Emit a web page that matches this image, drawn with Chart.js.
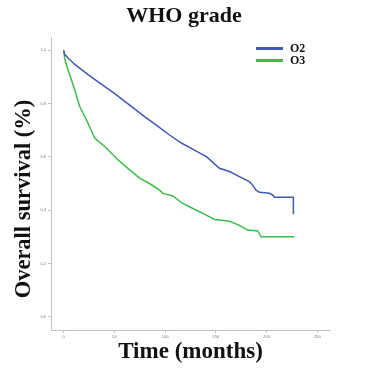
<!DOCTYPE html>
<html>
<head>
<meta charset="utf-8">
<script src="https://cdn.jsdelivr.net/npm/chart.js@4/dist/chart.umd.min.js"></script>
<style>
  body { margin: 0; background: #fff; }
  #wrap { position: relative; width: 368px; height: 368px; }
  #legend { position: absolute; left: 256px; top: 42px; font: bold 12px 'Liberation Serif', serif; color: #111; }
  #legend div { display: flex; align-items: center; height: 12px; }
  #legend span.sw { display: inline-block; width: 27px; height: 3px; margin-right: 7px; }
</style>
</head>
<body>
<div id="wrap">
  <canvas id="km" width="368" height="368"></canvas>
  <div id="legend"></div>
</div>
<script>
// Kaplan-Meier curves (months, survival)
const seriesNames = ['O2', 'O3'];
const seriesColors = ['#4259b3', '#3dbb4b'];

const o2Months = [0, 1, 5, 11, 24, 36, 50, 57, 68, 80, 92, 104, 116, 128, 141, 153.5, 163.4, 173.2, 183, 186.3, 189.6, 193, 202.8, 206, 207.7, 226.4, 226.4];
const o2Surv   = [1.0, 0.985, 0.968, 0.947, 0.909, 0.876, 0.838, 0.818, 0.786, 0.75, 0.717, 0.683, 0.652, 0.627, 0.60, 0.557, 0.545, 0.526, 0.507, 0.494, 0.475, 0.467, 0.463, 0.457, 0.448, 0.448, 0.385];

const o3Months = [0, 1, 2, 4.2, 10.8, 15.7, 23.9, 30.5, 40.4, 53.4, 63.3, 74.8, 84.6, 94.5, 97.7, 107.6, 117.4, 127.3, 133.9, 140.5, 148.6, 163.4, 173.2, 181.4, 191.2, 194.6, 227.4];
const o3Surv   = [1.0, 0.97, 0.954, 0.928, 0.853, 0.79, 0.727, 0.671, 0.639, 0.589, 0.557, 0.52, 0.50, 0.475, 0.463, 0.453, 0.425, 0.406, 0.394, 0.381, 0.365, 0.358, 0.343, 0.325, 0.322, 0.300, 0.300];

const xTicks = [0, 50, 100, 150, 200, 250];
const yTicks = [0, 0.2, 0.4, 0.6, 0.8, 1.0];

const toPoints = (xs, ys) => xs.map((x, i) => ({ x, y: ys[i] }));

const axisGrey = '#c4c4c4';
const tickFont = { family: 'Liberation Sans', size: 4 };
const labelFont = { family: 'Liberation Serif', size: 23, weight: 'bold', lineHeight: 1.2 };

// y title sits a bit lower than the axis middle in the original, so draw it by hand
const yTitle = {
  id: 'yTitle',
  afterDraw(chart) {
    const ctx = chart.ctx;
    ctx.save();
    ctx.translate(24, 199);
    ctx.rotate(-Math.PI / 2);
    ctx.font = 'bold 22.5px "Liberation Serif"';
    ctx.fillStyle = '#111';
    ctx.textAlign = 'center';
    ctx.textBaseline = 'middle';
    ctx.fillText('Overall survival (%)', 0, 0);
    ctx.restore();
  }
};

new Chart(document.getElementById('km'), {
  type: 'line',
  data: {
    datasets: [
      { label: seriesNames[0], data: toPoints(o2Months, o2Surv), borderColor: seriesColors[0], borderWidth: 1.5, pointRadius: 0, tension: 0, fill: false },
      { label: seriesNames[1], data: toPoints(o3Months, o3Surv), borderColor: seriesColors[1], borderWidth: 1.5, pointRadius: 0, tension: 0, fill: false }
    ]
  },
  plugins: [yTitle],
  options: {
    responsive: false,
    animation: false,
    layout: { padding: 0 },
    plugins: {
      legend: { display: false },
      tooltip: { enabled: false },
      title: {
        display: true,
        text: 'WHO grade',
        color: '#111',
        font: { family: 'Liberation Serif', size: 22, weight: 'bold', lineHeight: 1.2 },
        padding: { top: 3, bottom: 7.6 }
      }
    },
    scales: {
      x: {
        type: 'linear',
        min: -12.5,
        max: 262.5,
        afterBuildTicks: s => { s.ticks = xTicks.map(v => ({ value: v })); },
        afterFit: s => { s.height = 38; },
        border: { color: axisGrey, width: 1 },
        grid: { drawOnChartArea: false, drawTicks: true, tickLength: 3, color: axisGrey },
        ticks: { color: '#777', font: tickFont, padding: 1, maxRotation: 0 },
        title: { display: true, text: 'Time (months)', color: '#111', font: labelFont, padding: { top: 0, bottom: 2 } }
      },
      y: {
        type: 'linear',
        min: -0.05,
        max: 1.05,
        afterBuildTicks: s => { s.ticks = yTicks.map(v => ({ value: v })); },
        afterFit: s => { s.width = 51; },
        border: { color: axisGrey, width: 1 },
        grid: { drawOnChartArea: false, drawTicks: true, tickLength: 3, color: axisGrey },
        ticks: { color: '#777', font: tickFont, padding: 2, callback: v => v.toFixed(1) }
      },
      // empty right margin so the title centres on the whole picture
      side: {
        type: 'linear',
        position: 'right',
        display: true,
        min: 0,
        max: 1,
        afterFit: s => { s.width = 38; },
        border: { display: false },
        grid: { display: false },
        ticks: { display: false }
      }
    }
  }
});

// legend drawn as html, inside the plot's top right corner
const legend = document.getElementById('legend');
seriesNames.forEach((name, i) => {
  const row = document.createElement('div');
  row.innerHTML = `<span class="sw" style="background:${seriesColors[i]}"></span>${name}`;
  legend.appendChild(row);
});
</script>
</body>
</html>
